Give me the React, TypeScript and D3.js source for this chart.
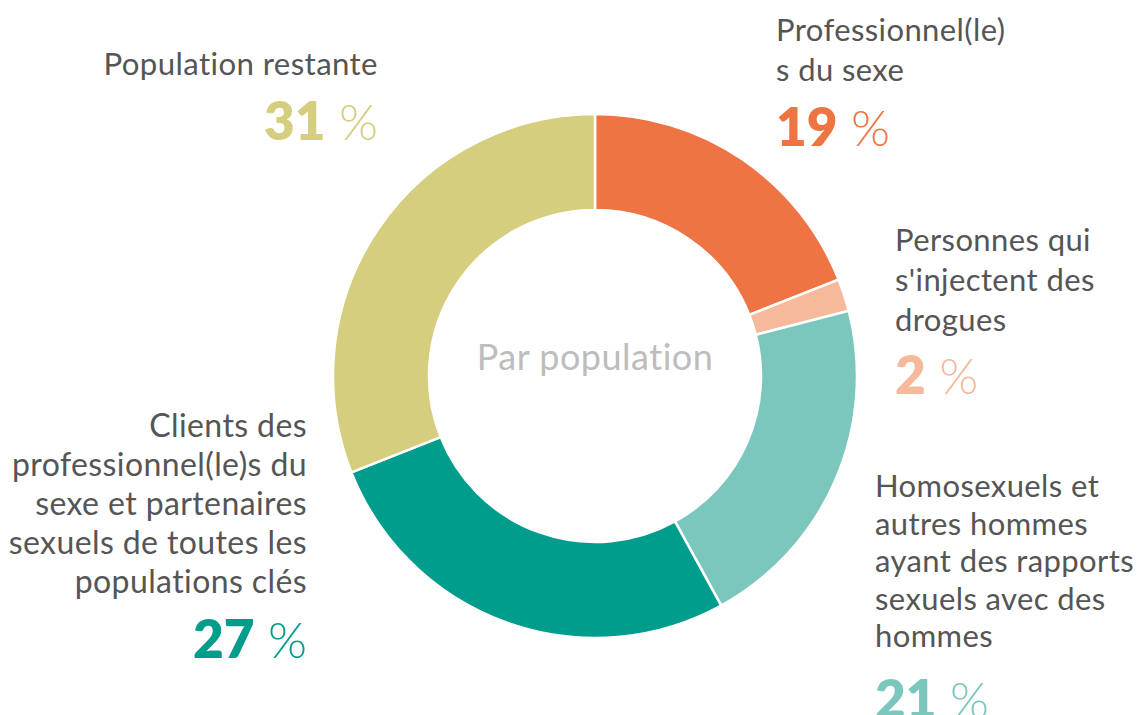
import React from "react";
import * as d3 from "d3";

const categories = [
  "Professionnel(le)s du sexe",
  "Personnes qui s'injectent des drogues",
  "Homosexuels et autres hommes ayant des rapports sexuels avec des hommes",
  "Clients des professionnel(le)s du sexe et partenaires sexuels de toutes les populations clés",
  "Population restante",
];
const values = [19, 2, 21, 27, 31];
const colors = ["#EE7443", "#F6B99B", "#7CC7BD", "#009D8D", "#D5CE7F"];
const labelLines = [
  ["Professionnel(le)", "s du sexe"],
  ["Personnes qui", "s'injectent des", "drogues"],
  ["Homosexuels et", "autres hommes", "ayant des rapports", "sexuels avec des", "hommes"],
  ["Clients des", "professionnel(le)s du", "sexe et partenaires", "sexuels de toutes les", "populations clés"],
  ["Population restante"],
];
const centerTitle = "Par population";

// label layout (position of the first line baseline, anchor, line spacing, gap to percentage, font size)
const labelLayout = [
  { x: 776, y: 41, anchor: "start", lh: 40, pctGap: 65, fs: 31 },
  { x: 895, y: 251, anchor: "start", lh: 40, pctGap: 63, fs: 31 },
  { x: 875, y: 497, anchor: "start", lh: 37.5, pctGap: 71, fs: 31 },
  { x: 307, y: 437, anchor: "end", lh: 39, pctGap: 65, fs: 32 },
  { x: 378, y: 75, anchor: "end", lh: 40, pctGap: 65, fs: 31.2 },
];

export default function App() {
  const W = 1141;
  const H = 715;
  const cx = 595;
  const cy = 376;
  const outerR = 262;
  const innerR = 166;

  const pie = d3.pie<number>().sort(null).value((d) => d);
  const arcs = pie(values);
  const arcGen = d3.arc<d3.PieArcDatum<number>>().innerRadius(innerR).outerRadius(outerR);

  const font = "Lato, 'Open Sans', sans-serif";

  return (
    <svg
      width={W}
      height={H}
      style={{ position: "absolute", left: 0, top: 0, background: "#fff" }}
    >
      <rect x={0} y={0} width={W} height={H} fill="#fff" />
      <g transform={`translate(${cx},${cy})`}>
        {arcs.map((a, i) => (
          <path
            key={categories[i]}
            d={arcGen(a) || ""}
            fill={colors[i]}
            stroke="#fff"
            strokeWidth={2.5}
          />
        ))}
        <text
          x={0}
          y={-6}
          textAnchor="middle"
          fontFamily={font}
          fontSize={36}
          letterSpacing={0.5}
          fill="#BDBDBD"
        >
          {centerTitle}
        </text>
      </g>
      {labelLines.map((lines, i) => {
        const L = labelLayout[i];
        const pctY = L.y + (lines.length - 1) * L.lh + L.pctGap;
        return (
          <g key={"lab" + i} fontFamily={font}>
            {lines.map((ln, j) => (
              <text
                key={j}
                x={L.x}
                y={L.y + j * L.lh}
                textAnchor={L.anchor as any}
                fontSize={L.fs}
                letterSpacing={0.4}
                fill="#555"
              >
                {ln}
              </text>
            ))}
            <text x={L.x} y={pctY} textAnchor={L.anchor as any} fill={colors[i]}>
              <tspan fontSize={53} fontWeight={800}>
                {values[i]}
              </tspan>
              <tspan fontSize={50} fontWeight={300}>
                {" %"}
              </tspan>
            </text>
          </g>
        );
      })}
    </svg>
  );
}
